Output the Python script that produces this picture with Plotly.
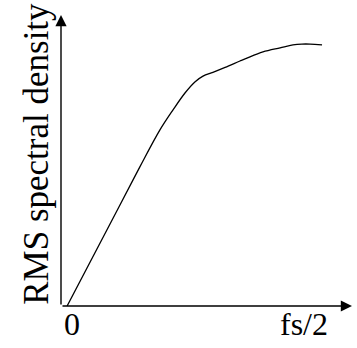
import plotly.graph_objects as go

# Normalized frequency (0 .. axis end) and RMS spectral density (normalized)
freq = [0.021, 0.199, 0.271, 0.340, 0.385, 0.426, 0.460, 0.488, 0.522, 0.564,
        0.615, 0.639, 0.694, 0.753, 0.797, 0.828, 0.856, 0.897]
rms_density = [0.0, 0.340, 0.478, 0.605, 0.674, 0.732, 0.770, 0.790, 0.803, 0.820,
               0.842, 0.852, 0.873, 0.887, 0.897, 0.900, 0.900, 0.897]

tick_positions = [0.038, 0.835]
tick_labels = ["0", "fs/2"]
y_title = "RMS spectral density"

FONT = "Liberation Serif, Times New Roman, serif"

fig = go.Figure()
fig.add_trace(go.Scatter(
    x=freq, y=rms_density, mode="lines",
    line=dict(color="black", width=1.3, shape="spline", smoothing=1.0),
    hoverinfo="skip", showlegend=False,
))

# Axis arrows
fig.add_annotation(x=1.0, y=0.0, ax=0.0, ay=0.0, xref="x", yref="y", axref="x", ayref="y",
                   showarrow=True, arrowhead=2, arrowsize=1.6, arrowwidth=1.4,
                   arrowcolor="black", text="", standoff=0, startstandoff=0)
fig.add_annotation(x=0.0, y=1.0, ax=0.0, ay=0.0, xref="x", yref="y", axref="x", ayref="y",
                   showarrow=True, arrowhead=2, arrowsize=1.6, arrowwidth=1.4,
                   arrowcolor="black", text="", standoff=0, startstandoff=0)

for pos, lab in zip(tick_positions, tick_labels):
    fig.add_annotation(x=pos, y=0, xref="x", yref="y", text=lab, showarrow=False,
                       yanchor="top", xanchor="center", yshift=1, borderpad=0,
                       font=dict(family=FONT, size=32, color="black"))

fig.add_annotation(x=-0.087, y=0.522, xref="paper", yref="paper", text=y_title,
                   showarrow=False, textangle=-90, xanchor="center", yanchor="middle",
                   font=dict(family=FONT, size=35, color="black"))

fig.update_layout(
    width=357, height=348,
    margin=dict(l=61, r=5, t=15, b=42),
    paper_bgcolor="white", plot_bgcolor="white",
    xaxis=dict(range=[0, 1], visible=False, fixedrange=True),
    yaxis=dict(range=[0, 1], visible=False, fixedrange=True),
)

fig.write_html("out.html", config={"displayModeBar": False},
               post_script="document.body.style.margin='0';document.body.style.overflow='hidden';")
